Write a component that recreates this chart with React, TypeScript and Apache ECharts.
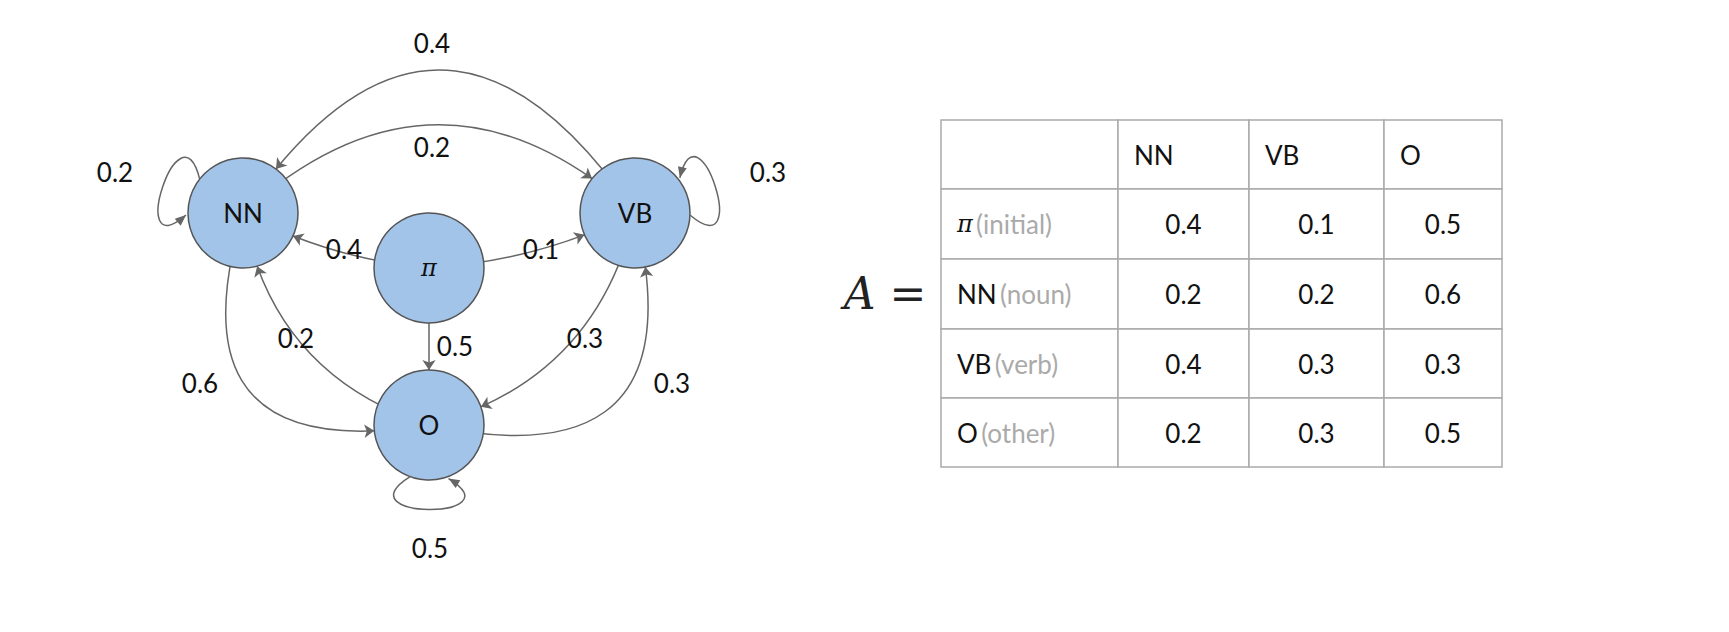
import React, { useEffect, useRef } from 'react';
import * as echarts from 'echarts';

const states = ['NN', 'VB', 'O'];
const rowNames = ['π', 'NN', 'VB', 'O'];
const rowNotes = ['(initial)', '(noun)', '(verb)', '(other)'];
const matrix = [
  [0.4, 0.1, 0.5],
  [0.2, 0.2, 0.6],
  [0.4, 0.3, 0.3],
  [0.2, 0.3, 0.5],
];
// source, target, value, curveness
const transitions: [string, string, number, number][] = [
  ['NN', 'VB', 0.2, 0.45],
  ['VB', 'NN', 0.4, -0.73],
  ['π', 'NN', 0.4, 0.1],
  ['π', 'VB', 0.1, -0.1],
  ['π', 'O', 0.5, 0],
  ['O', 'NN', 0.2, 0.3],
  ['NN', 'O', 0.6, -0.8],
  ['VB', 'O', 0.3, 0.3],
  ['O', 'VB', 0.3, -0.8],
];
const selfLoops: [string, number][] = [['NN', 0.2], ['VB', 0.3], ['O', 0.5]];

// layout
const nodePos: Record<string, number[]> = { NN: [243, 213], VB: [635, 213], 'π': [429, 268], O: [429, 425] };
const labelPos: Record<string, number[]> = {
  'NN-VB': [432, 147], 'VB-NN': [432, 43], 'π-NN': [344, 249], 'π-VB': [541, 249], 'π-O': [455, 346],
  'O-NN': [296, 338], 'NN-O': [200, 383], 'VB-O': [585, 338], 'O-VB': [672, 383],
  'NN-NN': [115, 172], 'VB-VB': [768, 172], 'O-O': [430, 548],
};
// loop direction (radians, screen coords) and which way round
const loopDir: Record<string, [number, number]> = { NN: [Math.PI * 1.1, 1], VB: [-Math.PI * 0.1, 1], O: [Math.PI * 0.5, 1] };
const R = 55;
const cols = [941, 1118, 1249, 1384, 1502];
const rows = [120, 189, 259, 329, 398, 467];
const FONT = '26px Lato';

export default function App() {
  const ref = useRef<HTMLDivElement>(null);
  useEffect(() => {
    const chart = echarts.init(ref.current!, null, { renderer: 'svg' });
    const graphic: any[] = [];
    for (let r = 0; r < 5; r++) {
      for (let c = 0; c < 4; c++) {
        graphic.push({
          type: 'rect',
          shape: { x: cols[c], y: rows[r], width: cols[c + 1] - cols[c], height: rows[r + 1] - rows[r] },
          style: { fill: '#fff', stroke: '#aaa', lineWidth: 1.5 },
        });
      }
    }
    states.forEach((s, i) => {
      graphic.push({ type: 'text', x: cols[i + 1] + 16, y: (rows[0] + rows[1]) / 2,
        style: { text: s, font: FONT, fill: '#111', verticalAlign: 'middle' } });
    });
    rowNames.forEach((n, r) => {
      const y = (rows[r + 1] + rows[r + 2]) / 2;
      graphic.push({ type: 'text', x: cols[0] + 16, y,
        style: {
          text: `{a|${n}} {b|${rowNotes[r]}}`, verticalAlign: 'middle',
          rich: {
            a: { font: r === 0 ? 'italic 24px "DejaVu Serif"' : FONT, fill: '#111' },
            b: { font: FONT, fill: '#aaa' },
          },
        } });
      matrix[r].forEach((v, c) => {
        graphic.push({ type: 'text', x: (cols[c + 1] + cols[c + 2]) / 2, y,
          style: { text: v.toFixed(1), font: FONT, fill: '#111', align: 'center', verticalAlign: 'middle' } });
      });
    });
    graphic.push({ type: 'text', x: 885, y: 293,
      style: { text: 'A =', font: 'italic 44px "DejaVu Serif"', fill: '#222', align: 'center', verticalAlign: 'middle' } });

    // edge labels
    transitions.forEach(([s, t, v]) => {
      const p = labelPos[`${s}-${t}`];
      graphic.push({ type: 'text', x: p[0], y: p[1], z: 10,
        style: { text: v.toFixed(1), font: FONT, fill: '#111', align: 'center', verticalAlign: 'middle' } });
    });
    // self loops
    selfLoops.forEach(([n, v]) => {
      const [cx, cy] = nodePos[n];
      const [th, dir] = loopDir[n];
      const a1 = th + 0.35 * dir, a2 = th - 0.35 * dir;
      const c1 = th + 0.75 * dir, c2 = th - 0.75 * dir;
      const far = R + 75;
      const x1 = cx + R * Math.cos(a1), y1 = cy + R * Math.sin(a1);
      const x2 = cx + (R + 2) * Math.cos(a2), y2 = cy + (R + 2) * Math.sin(a2);
      const cpx1 = cx + far * Math.cos(c1), cpy1 = cy + far * Math.sin(c1);
      const cpx2 = cx + far * Math.cos(c2), cpy2 = cy + far * Math.sin(c2);
      graphic.push({ type: 'bezierCurve', z: 5,
        shape: { x1, y1, x2, y2, cpx1, cpy1, cpx2, cpy2 },
        style: { stroke: '#666', lineWidth: 1.5, fill: null } });
      const dx = x2 - cpx2, dy = y2 - cpy2, len = Math.hypot(dx, dy);
      const ux = dx / len, uy = dy / len;
      graphic.push({ type: 'polygon', z: 5,
        shape: { points: [[x2, y2], [x2 - ux * 11 - uy * 4.5, y2 - uy * 11 + ux * 4.5], [x2 - ux * 11 + uy * 4.5, y2 - uy * 11 - ux * 4.5]] },
        style: { fill: '#666' } });
      const p = labelPos[`${n}-${n}`];
      graphic.push({ type: 'text', x: p[0], y: p[1], z: 10,
        style: { text: v.toFixed(1), font: FONT, fill: '#111', align: 'center', verticalAlign: 'middle' } });
    });

    chart.setOption({
      animation: false,
      graphic,
      series: [{
        type: 'graph',
        layout: 'none',
        left: 243, top: 213, width: 392, height: 212,
        symbolSize: 110,
        itemStyle: { color: '#a3c4e9', borderColor: '#555', borderWidth: 1.5 },
        label: { show: true, fontSize: 26, fontFamily: 'Lato', color: '#111' },
        edgeSymbol: ['none', 'arrow'],
        edgeSymbolSize: 10,
        lineStyle: { color: '#666', width: 1.5, opacity: 1 },
        data: Object.keys(nodePos).map((k) => ({
          name: k, x: nodePos[k][0], y: nodePos[k][1],
          label: k === 'π' ? { fontFamily: 'DejaVu Serif', fontStyle: 'italic', fontSize: 24 } : undefined,
        })),
        links: transitions.map(([s, t, v, c]) => ({
          source: s, target: t, value: v,
          lineStyle: { curveness: c },
        })),
      }],
    });
    return () => chart.dispose();
  }, []);
  return <div ref={ref} style={{ position: 'absolute', left: 0, top: 0, width: 1729, height: 632 }} />;
}
